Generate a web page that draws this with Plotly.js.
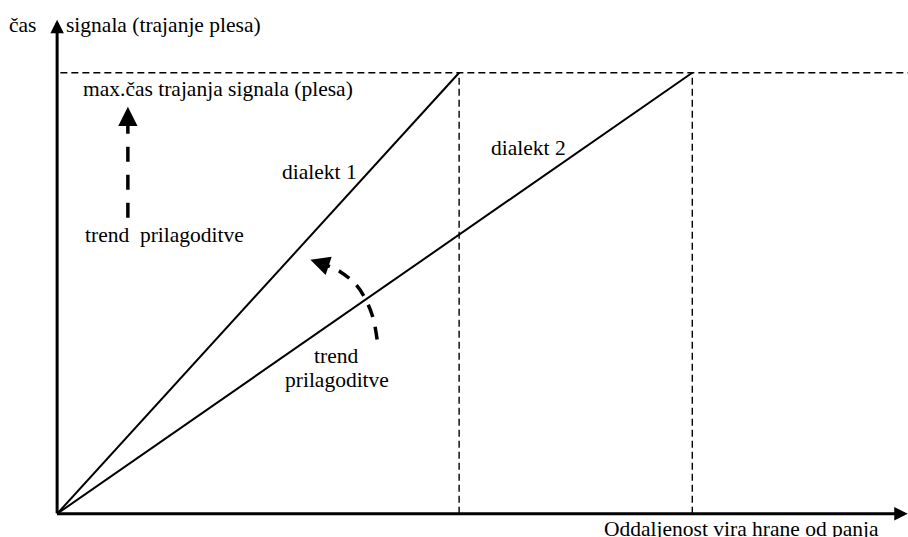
<!DOCTYPE html>
<html><head><meta charset="utf-8">
<script src="https://cdn.plot.ly/plotly-3.0.1.min.js"></script>
<style>body{margin:0;background:#fff}#c{width:908px;height:537px}</style>
</head><body><div id="c"></div>
<script>
// schematic values (arbitrary units)
const maxTime = 10;          // max. čas trajanja signala
const dist1 = 5;             // dialekt 1 reaches max at this distance
const dist2 = 7.9;           // dialekt 2 reaches max at this distance
const lineNames = ['dialekt 1', 'dialekt 2'];
const curveX = [3.98, 3.93, 3.84, 3.72, 3.52, 3.30];
const curveY = [3.95, 4.44, 4.85, 5.19, 5.49, 5.67];
const upArrowX = 0.88, upArrowY = [6.71, 8.95], upArrowTip = 9.23;
const xMax = 10.58, yTop = 11.2;

const F = 'Liberation Serif';
const fontSize = 21.5;
const dash = {color:'#000', width:1.4, dash:'7px,4px'};

const traces = [
  {x:[0.04, xMax], y:[maxTime, maxTime], mode:'lines', line:dash},
  {x:[dist1, dist1], y:[0, maxTime], mode:'lines', line:dash},
  {x:[dist2, dist2], y:[0, maxTime], mode:'lines', line:dash},
  {x:[0, dist1], y:[0, maxTime], mode:'lines', name:lineNames[0], line:{color:'#000', width:2}},
  {x:[0, dist2], y:[0, maxTime], mode:'lines', name:lineNames[1], line:{color:'#000', width:2}},
  {x:curveX, y:curveY, mode:'lines', line:{color:'#000', width:3.5, dash:'13px,10px', shape:'spline'}},
  {x:[upArrowX, upArrowX], y:upArrowY, mode:'lines', line:{color:'#000', width:3.5, dash:'15px,13px'}}
];

function txt(text, x, y, xanchor, extra) {
  return Object.assign({text:text, x:x, y:y, xref:'x', yref:'y', showarrow:false,
    xanchor:xanchor||'center', yanchor:'middle', font:{family:F, size:fontSize, color:'#000'}}, extra||{});
}
function arrow(x, y, ax, ay, w, size) {
  return {x:x, y:y, ax:ax, ay:ay, xref:'x', yref:'y', axref:'x', ayref:'y', text:'',
    showarrow:true, arrowhead:2, arrowsize:size, arrowwidth:w, arrowcolor:'#000', standoff:0, startstandoff:0};
}

const annotations = [
  arrow(0, yTop, 0, -0.02, 3, 0.9),
  arrow(xMax, 0, -0.02, 0, 3, 0.9),
  arrow(3.15, 5.76, curveX[5], curveY[5], 3.5, 1.1),
  arrow(upArrowX, upArrowTip, upArrowX, upArrowY[1], 3.5, 1.1),
  txt('čas', -0.012, 0.953, 'center', {xref:'paper', yref:'paper'}),
  txt('signala (trajanje plesa)', 0.08, 11.09, 'left'),
  txt('max.čas trajanja signala (plesa)', 0.30, 9.64, 'left'),
  txt('trend\u00a0 prilagoditve', 1.33, 6.32),
  txt(lineNames[0], 3.26, 7.76),
  txt(lineNames[1], 5.86, 8.30),
  txt('trend', 3.47, 3.58),
  txt('prilagoditve', 3.48, 3.04),
  txt('Oddaljenost vira hrane od panja', 0.810, -0.004, 'center', {xref:'paper', yref:'paper'})
];

const layout = {
  width:908, height:537, showlegend:false,
  margin:{l:33, r:0, t:0, b:10},
  paper_bgcolor:'#fff', plot_bgcolor:'#fff',
  font:{family:F},
  xaxis:{range:[-0.3, 10.583], visible:false, fixedrange:true},
  yaxis:{range:[-0.3, 11.65], visible:false, fixedrange:true},
  annotations:annotations
};
Plotly.newPlot('c', traces, layout, {staticPlot:true});
</script></body></html>
